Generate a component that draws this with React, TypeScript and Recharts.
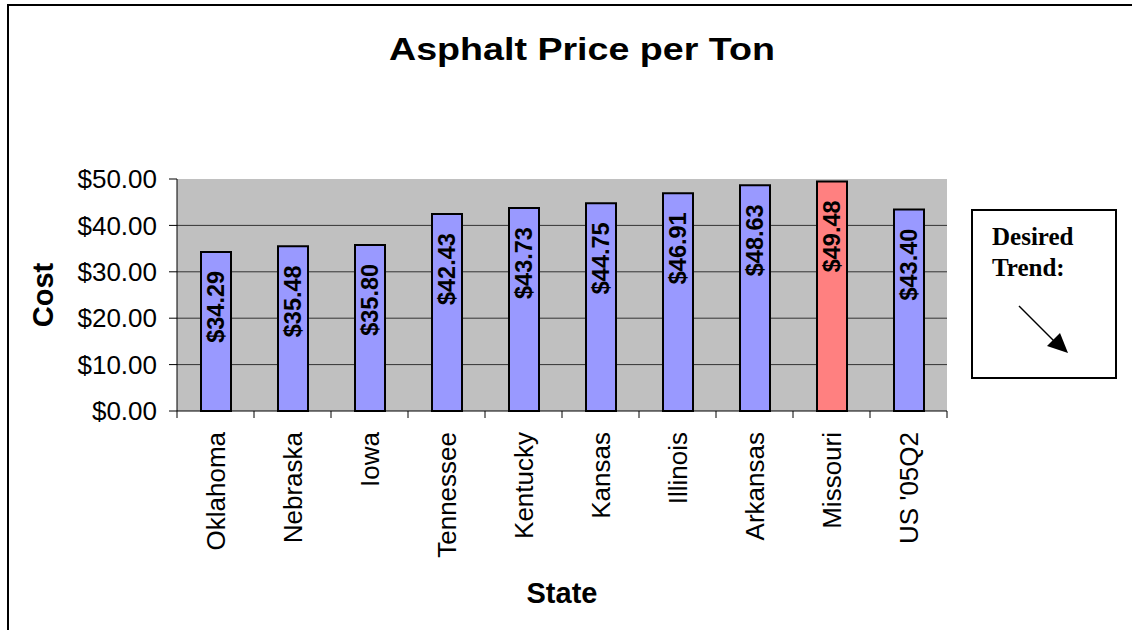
import React from "react";
import {
  Bar,
  BarChart,
  CartesianGrid,
  Cell,
  LabelList,
  XAxis,
  YAxis,
} from "recharts";

const states = [
  "Oklahoma",
  "Nebraska",
  "Iowa",
  "Tennessee",
  "Kentucky",
  "Kansas",
  "Illinois",
  "Arkansas",
  "Missouri",
  "US '05Q2",
];
const costs = [34.29, 35.48, 35.8, 42.43, 43.73, 44.75, 46.91, 48.63, 49.48, 43.4];
const highlighted = ["Missouri"];
const yTicks = [0, 10, 20, 30, 40, 50];
const gridValues = [10, 20, 30, 40];

const data = states.map((name, i) => ({ name, cost: costs[i] }));

const W = 1132;
const H = 630;
const M = { top: 179, right: 185, bottom: 0, left: 0 };
const Y_AXIS_W = 177;
const X_AXIS_H = 219;
const BAND = (W - M.left - Y_AXIS_W - M.right) / states.length;

const SANS = "Arial, 'Liberation Sans', sans-serif";
const SERIF = "'Times New Roman', 'Liberation Serif', serif";

const money = (v: number) => `$${v.toFixed(2)}`;

const StateTick = (props: any) => {
  const { x, y, payload, index } = props;
  const axisY = y - 21;
  const left = x - BAND / 2;
  return (
    <g>
      <line x1={left} x2={left} y1={axisY} y2={axisY + 7} stroke="#000" />
      {index === states.length - 1 && (
        <line x1={x + BAND / 2} x2={x + BAND / 2} y1={axisY} y2={axisY + 7} stroke="#000" />
      )}
      <text
        transform={`translate(${x},${y}) rotate(-90)`}
        textAnchor="end"
        dy="0.36em"
        fontSize={26}
        fontFamily={SANS}
        fill="#000"
      >
        {payload.value}
      </text>
    </g>
  );
};

const ValueLabel = (props: any) => {
  const vb = props.viewBox || {};
  const x = props.x ?? vb.x;
  const y = props.y ?? vb.y;
  const width = props.width ?? vb.width;
  return (
    <text
      transform={`translate(${x + width / 2},${y + 19}) rotate(-90)`}
      textAnchor="end"
      dy="0.36em"
      fontSize={23.5}
      fontWeight="bold"
      fontFamily={SANS}
      fill="#000"
    >
      {money(Number(props.value))}
    </text>
  );
};

export default function App() {
  return (
    <div style={{ position: "absolute", left: 0, top: 0, width: W, height: H, background: "#fff" }}>
      <BarChart width={W} height={H} data={data} margin={M}>
        <CartesianGrid
          vertical={false}
          horizontalValues={gridValues}
          fill="#C0C0C0"
          stroke="#333"
          strokeDasharray=""
        />
        <XAxis
          dataKey="name"
          interval={0}
          height={X_AXIS_H}
          tickLine={false}
          tickSize={8}
          tickMargin={13}
          axisLine={{ stroke: "#000" }}
          tick={<StateTick />}
        />
        <YAxis
          width={Y_AXIS_W}
          domain={[0, 50]}
          ticks={yTicks}
          tickFormatter={money}
          tickSize={8}
          tickMargin={12}
          axisLine={{ stroke: "#000" }}
          tickLine={{ stroke: "#000" }}
          tick={{ fill: "#000", fontSize: 26, fontFamily: SANS }}
        />
        <Bar
          dataKey="cost"
          barSize={30}
          stroke="#000"
          strokeWidth={2}
          isAnimationActive={false}
        >
          {data.map((d) => (
            <Cell key={d.name} fill={highlighted.includes(d.name) ? "#FF8080" : "#9999FF"} />
          ))}
          <LabelList dataKey="cost" content={<ValueLabel />} />
        </Bar>
      </BarChart>
      <svg
        width={W}
        height={H}
        style={{ position: "absolute", left: 0, top: 0, pointerEvents: "none" }}
      >
        <path d={`M8,${H} V5 H${W}`} fill="none" stroke="#000" strokeWidth={2} />
        <text
          x={582}
          y={60}
          textAnchor="middle"
          fontSize={32}
          fontWeight="bold"
          fontFamily={SANS}
          textLength={386}
          lengthAdjust="spacingAndGlyphs"
        >
          Asphalt Price per Ton
        </text>
        <text
          transform="translate(53,295) rotate(-90)"
          textAnchor="middle"
          fontSize={29}
          fontWeight="bold"
          fontFamily={SANS}
        >
          Cost
        </text>
        <text x={562} y={603} textAnchor="middle" fontSize={29} fontWeight="bold" fontFamily={SANS}>
          State
        </text>
        <rect x={972} y={210} width={144} height={168} fill="#fff" stroke="#000" strokeWidth={2} />
        <text x={992} y={245} fontSize={25} fontWeight="bold" fontFamily={SERIF}>
          Desired
        </text>
        <text x={992} y={276} fontSize={25} fontWeight="bold" fontFamily={SERIF}>
          Trend:
        </text>
        <line x1={1019} y1={306} x2={1056} y2={343} stroke="#000" strokeWidth={1.5} />
        <polygon points="1068,353 1047,346 1060,333" fill="#000" />
      </svg>
    </div>
  );
}
